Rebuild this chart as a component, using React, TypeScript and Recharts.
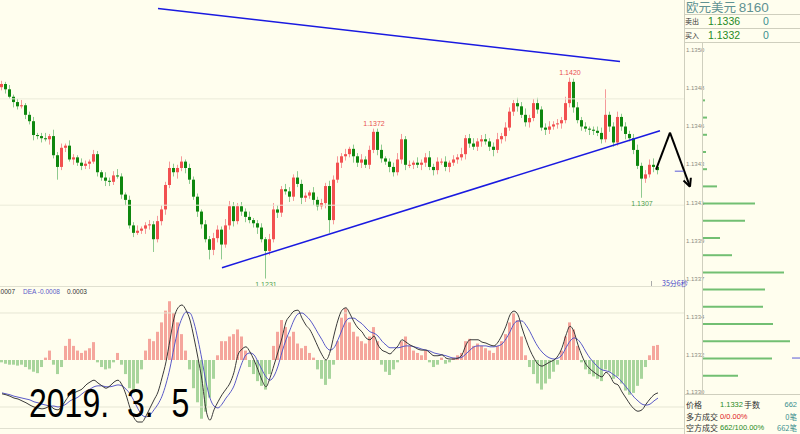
import React from 'react';
import { ComposedChart, BarChart, Bar, Line, XAxis, YAxis, ReferenceLine, ReferenceDot, Cell } from 'recharts';

// ---- price data (pips above 1.1200) ----
const closes = [
  214,209,202,197,193,194,185,179,166,165,
  163,162,165,147,136,154,156,143,145,140,
  137,139,141,148,131,126,123,122,128,127,
  110,105,81,74,76,78,81,82,68,85,
  96,119,135,131,135,141,135,124,108,94,
  82,68,58,69,77,63,81,99,85,99,
  94,89,86,83,79,68,57,68,96,93,
  115,113,108,126,120,107,109,112,105,99,
  102,118,86,124,140,146,148,153,146,140,
  143,138,152,169,152,144,141,136,131,143,
  162,138,138,140,138,140,145,136,133,141,
  141,136,140,143,145,148,163,158,155,160,
  162,160,155,152,162,165,173,188,196,193,
  185,178,182,196,190,173,171,174,176,177,
  180,196,216,192,180,174,172,171,170,168,
  162,185,174,159,183,174,167,163,152,137,
  125,129,138,136,133,
];
const firstOpen = 211;
const wickUp = [
  3,2,4,2,3,5,2,3,4,2,
  3,5,2,6,3,4,2,5,3,2,
  4,3,2,4,3,2,5,3,4,6,
  3,2,4,3,5,2,3,4,3,5,
  4,3,6,4,3,5,2,4,3,3,
  2,4,3,5,4,3,6,5,4,3,
  4,3,5,2,3,4,2,5,6,4,
  3,5,4,3,6,4,3,2,5,3,
  4,3,5,4,6,3,5,2,4,3,
  5,3,4,3,3,5,2,3,4,6,
  5,3,4,2,5,3,4,6,3,4,
  3,5,2,4,3,6,3,4,5,3,
  4,5,3,4,6,3,5,4,3,5,
  4,6,3,4,5,3,4,5,3,4,
  3,6,4,3,5,3,4,2,3,4,
  5,24,3,4,5,3,4,3,4,5,
  3,4,5,6,3,
];
const wickDown = [
  3,4,2,5,3,2,4,3,5,3,
  4,2,5,3,12,3,4,2,5,3,
  4,3,5,2,4,3,5,4,3,2,
  4,5,3,4,2,3,5,4,12,3,
  4,5,3,4,6,3,5,4,3,5,
  4,3,9,5,4,14,3,4,5,3,
  4,5,3,4,6,3,26,4,3,5,
  4,3,5,4,3,6,4,3,5,4,
  3,5,12,4,3,5,4,3,6,4,
  5,3,4,3,5,4,3,5,4,3,
  4,5,3,4,3,5,4,3,5,4,
  3,4,5,3,4,3,5,4,3,4,
  5,3,4,6,3,4,5,3,4,5,
  3,4,5,3,4,3,5,4,3,4,
  5,3,4,5,3,4,3,5,4,3,
  4,3,5,4,3,4,5,3,4,3,
  18,4,3,5,4,
];

// ---- MACD data (units of 0.0001) ----
const macdHist = [
  -0.5,-0.8,-1,-1,-1.2,-1,-1.5,-2,-2.5,-2.8,
  -1.5,0.5,2,-1,-3,-1.5,3,4.5,3,2,
  1.5,2,2.5,3.8,-0.5,-1.5,-2,-1.8,-0.5,1.5,
  -1,-3,-6,-7,-5,-2,2,4.5,4,6,
  8,10.5,12.5,10,8,5.5,2,-2,-6,-9,
  -12.5,-11,-8,-4,1,4,4,5,5.5,6.5,
  5,2,-1.5,-3,-4.5,-5.5,-6.3,-3,3,6,
  8.5,7,5,6,3.5,2.5,3,1.5,0.5,-2,
  -4,-5.3,-4,-1,4,9,11,8,6,5,
  4,3.5,5,7,4,-1,-2.5,-3.2,-2,-0.5,
  4,5,3,2,1.5,1,2,-0.5,-1.5,-1,
  0.5,-0.8,-0.5,0.5,1,1.5,4,4.5,3,3.5,
  3,2.5,2,1.5,3,4,5.5,8,10,8.5,
  5,1,-1.5,-3,-5,-6.3,-5,-4,-2.5,-1,
  2,5,8,6.5,3,-0.5,-2,-3,-3.5,-4,
  -4.5,-2,-2.5,-4,-3.5,-5,-6.5,-7.4,-7,-5.5,
  -4,-1.5,1,3,3.2,
];
const difValues = [
  -7.2,-7.4,-7.7,-8.1,-8.3,-8.7,-9.1,-9.6,-10,-10.2,
  -10.4,-10.2,-9.8,-10.4,-10.6,-9.8,-8.5,-7.4,-7,-6.6,
  -6.2,-5.3,-4.7,-4.3,-4.9,-5.5,-6,-5.5,-4.7,-4.3,
  -5.3,-7.4,-10.2,-12.3,-13.2,-13.2,-11.9,-10.2,-8.5,-6.8,
  -3.8,-0.4,4.3,8.9,11.1,11.7,10.6,8.5,4.7,0.4,
  -4.3,-10.6,-12.8,-10.6,-8.9,-7.4,-6.2,-4.9,-2.6,1.1,
  2.3,2.8,1.7,0,-2.1,-4.3,-5.7,-3.8,-1.1,1.7,
  4.7,8.1,9.4,10.4,10.6,8.9,7.4,6.4,4.7,2.8,
  1.1,0,1.7,5.3,8.5,10.6,11.1,9.8,8.1,6.8,
  6,4.7,4.3,5.1,3.2,2.1,1.7,1.3,2.1,3,
  4.3,3.8,3.2,2.8,2.3,2.1,2.1,1.5,0.9,0.9,
  1.1,0.4,0.2,0.2,0.4,1.1,3.2,4.3,4.3,4.3,
  3.8,3.6,3.2,3,3.8,5.3,7.2,9.6,10.4,9.6,
  6.8,4.3,2.1,0.4,-0.9,-1.3,-0.9,-0.4,0,0.9,
  2.6,5.3,7.2,6,3.2,0.9,-0.9,-1.9,-2.6,-3.2,
  -3.6,-2.6,-3.4,-4.9,-5.3,-6.8,-8.1,-9.4,-10.4,-10.9,
  -10.6,-9.4,-8.3,-7.4,-7,
];
const deaValues = [
  -7,-7.2,-7.4,-7.7,-7.9,-8.1,-8.3,-8.5,-8.9,-9.1,
  -9.4,-9.6,-9.8,-9.8,-10,-9.8,-9.4,-8.7,-8.3,-7.9,
  -7.2,-6.6,-6.2,-5.7,-5.5,-5.5,-5.7,-5.7,-5.5,-5.3,
  -5.5,-6.2,-7.2,-8.7,-10.4,-11.7,-12.1,-11.7,-10.6,-9.4,
  -7.7,-5.1,-1.7,2.6,6.4,8.9,10.2,10,7.9,4.3,
  0,-4.7,-8.1,-9.8,-10.2,-9.4,-8.1,-7,-5.5,-3,
  -0.6,1.1,1.5,1.1,-0.4,-2.1,-3.6,-4.3,-3.4,-1.3,
  1.7,4.3,6.4,8.5,9.8,10,9.4,8.5,7.2,5.7,
  4.3,2.8,2.1,2.6,4.3,6.4,8.3,8.9,8.9,8.3,
  7.7,6.8,6,5.7,5.1,4,3.2,2.6,2.6,2.6,
  2.8,3,3,2.8,2.6,2.3,2.1,1.9,1.5,1.3,
  1.1,0.9,0.6,0.4,0.4,0.6,1.3,2.1,2.8,3,
  3,3,2.8,2.8,3,3.4,4.5,6,7.7,8.3,
  8.3,7.4,6,4.3,2.8,1.7,0.9,0.4,0.2,0.4,
  1.1,2.6,4,4.7,4.3,3.2,1.7,0.4,-0.6,-1.5,
  -2.1,-2.3,-2.6,-3.2,-3.8,-4.7,-5.7,-6.8,-7.9,-8.7,
  -9.4,-9.6,-9.4,-8.7,-8.1,
];

// ---- depth ladder (pips above 1.1300 : volume) ----
const ladderLevels = [47,46,45,44,43,42,41,40,39,38,37,36,35,34,33,32,31];
const ladderVolumes = [3,5,5,4,5,15,53,43,18,30,82,63,61,71,88,70,36];
const ladderTicks = [49.9,47.7,45.5,43.3,41.0,38.8,36.6,34.4,32.2,30.0];
const ladderTickLabels = ['1.1350','1.1348','1.1346','1.1343','1.1341','1.1339','1.1337','1.1334','1.1332','1.1330'];

// ---- annotations ----
const extremeIdx = [142, 93, 66, 160];
const extremeKind = ['high', 'high', 'low', 'low'];
const downTrend = [{ x: 39, y: 284.9 }, { x: 154.5, y: 235.1 }];
const upTrend = [{ x: 55, y: 41.2 }, { x: 164.5, y: 170.1 }];
const arrowPts = [{ x: 163.5, y: 133.4 }, { x: 167, y: 168.2 }, { x: 172, y: 117.4 }];
const lastPricePips = 132;

const opens = [firstOpen, ...closes.slice(0, -1)];
const priceData = closes.map((c, i) => {
  const o = opens[i];
  const high = Math.max(o, c) + wickUp[i];
  const low = Math.min(o, c) - wickDown[i];
  return { i, open: o, close: c, high, low, range: [low, high] };
});
const macdData = macdHist.map((h, i) => ({ i, hist: h, dif: difValues[i], dea: deaValues[i] }));
const ladderData = ladderLevels.map((v, k) => ({ v, vol: ladderVolumes[k] }));

const fmt = (pips: number) => ((11200 + pips) / 10000).toFixed(4);

const Candle = (props: any) => {
  const { x, y, width, height, payload } = props;
  if (x == null || y == null) return null;
  const top = Math.min(y, y + height);
  const h = Math.abs(height);
  const { open, close, high, low } = payload;
  const span = high - low || 1;
  const py = (v: number) => top + ((high - v) / span) * h;
  const bull = close >= open;
  const cx = x + width / 2;
  const bTop = py(Math.max(open, close));
  const bBot = py(Math.min(open, close));
  return (
    <g>
      <line x1={cx} x2={cx} y1={top} y2={top + h} stroke={bull ? '#f59a9a' : '#8fca8f'} strokeWidth={1} />
      <rect x={x} y={bTop} width={width} height={Math.max(1, bBot - bTop)} fill={bull ? '#f25050' : '#0e870e'} />
    </g>
  );
};

const ArrowShape = (props: any) => {
  const { x1, y1, x2, y2 } = props;
  if ([x1, y1, x2, y2].some((v) => v == null || isNaN(v))) return null;
  const ang = Math.atan2(y2 - y1, x2 - x1);
  const L = 9;
  const a1 = ang + Math.PI - 0.45;
  const a2 = ang + Math.PI + 0.45;
  return (
    <g>
      <line x1={x1} y1={y1} x2={x2} y2={y2} stroke="#000" strokeWidth={2} />
      <line x1={x2} y1={y2} x2={x2 + L * Math.cos(a1)} y2={y2 + L * Math.sin(a1)} stroke="#000" strokeWidth={2} />
      <line x1={x2} y1={y2} x2={x2 + L * Math.cos(a2)} y2={y2 + L * Math.sin(a2)} stroke="#000" strokeWidth={2} />
    </g>
  );
};

const LadderTick = (p: any) => (
  <text x={2} y={p.y} dy={2} fontSize={6} fill="#8c8c84" fontFamily="Arial, 'Liberation Sans', sans-serif">
    {ladderTickLabels[p.index]}
  </text>
);

const BG = '#fffeee';
const FRAME = '#cfcfbe';
const sans = "Arial, 'Liberation Sans', sans-serif";
const cjk = "'Noto Sans CJK SC', 'Noto Sans', sans-serif";

const abs = (l: number, t: number, extra: any = {}) => ({ position: 'absolute' as const, left: l, top: t, whiteSpace: 'pre' as const, ...extra });

export default function App() {
  return (
    <div style={{ position: 'fixed', left: 0, top: 0, width: 800, height: 434, background: BG, overflow: 'hidden', fontFamily: sans }}>
      {/* ladder panel */}
      <div style={abs(684, 42)}>
        <BarChart layout="vertical" width={116} height={352} data={ladderData} margin={{ top: 0, right: 0, bottom: 0, left: 0 }}>
          <XAxis type="number" domain={[0, 98]} hide allowDataOverflow />
          <YAxis type="number" dataKey="v" reversed domain={[29.91, 50.37]} ticks={ladderTicks} interval={0} width={18} axisLine={false} tickLine={false} tick={<LadderTick />} allowDataOverflow />
          <Bar dataKey="vol" fill="#72bf72" barSize={2} isAnimationActive={false} />
          <ReferenceLine segment={[{ x: 90, y: lastPricePips - 100 }, { x: 98, y: lastPricePips - 100 }]} stroke="#5a5ad8" strokeWidth={1} ifOverflow="visible" />
        </BarChart>
      </div>
      {/* frames */}
      <div style={abs(684, 0, { width: 1, height: 434, background: FRAME })} />
      <div style={abs(702, 42, { width: 1, height: 352, background: FRAME })} />
      <div style={abs(684, 14, { width: 116, height: 1, background: FRAME })} />
      <div style={abs(684, 28, { width: 116, height: 1, background: FRAME })} />
      <div style={abs(684, 42, { width: 116, height: 1, background: FRAME })} />
      <div style={abs(684, 394, { width: 116, height: 1, background: FRAME })} />
      <div style={abs(0, 286, { width: 684, height: 1, background: '#e0e0d0' })} />
      <div style={abs(0, 428, { width: 684, height: 1, background: '#e0e0d0' })} />

      {/* header */}
      <div style={abs(686, 0, { fontFamily: cjk, fontSize: 12.5, lineHeight: '13px', color: '#5f9292' })}>
        欧元美元 <span style={{ fontFamily: sans, fontSize: 13.5 }}>8160</span>
      </div>
      <div style={abs(685, 16, { fontFamily: cjk, fontSize: 7, lineHeight: '10px', color: '#333' })}>卖出</div>
      <div style={abs(708, 15, { fontSize: 10.5, lineHeight: '12px', color: '#1f8a1f' })}>1.1336</div>
      <div style={abs(763, 15, { fontSize: 10.5, lineHeight: '12px', color: '#3c8f8f' })}>0</div>
      <div style={abs(685, 30, { fontFamily: cjk, fontSize: 7, lineHeight: '10px', color: '#333' })}>买入</div>
      <div style={abs(708, 29, { fontSize: 10.5, lineHeight: '12px', color: '#1f8a1f' })}>1.1332</div>
      <div style={abs(763, 29, { fontSize: 10.5, lineHeight: '12px', color: '#3c8f8f' })}>0</div>

      {/* bottom info */}
      <div style={abs(686, 400, { fontFamily: cjk, fontSize: 8, lineHeight: '10px', color: '#333' })}>价格</div>
      <div style={abs(720, 400, { fontSize: 7.5, lineHeight: '10px', color: '#1f8a1f' })}>1.1332</div>
      <div style={abs(744, 400, { fontFamily: cjk, fontSize: 8, lineHeight: '10px', color: '#333' })}>手数</div>
      <div style={abs(740, 400, { width: 57, textAlign: 'right', fontSize: 7.5, lineHeight: '10px', color: '#3c8f8f' })}>662</div>
      <div style={abs(686, 412, { fontFamily: cjk, fontSize: 8, lineHeight: '10px', color: '#333' })}>多方成交</div>
      <div style={abs(720, 412, { fontSize: 7.5, lineHeight: '10px', color: '#e02020' })}>0/0.00%</div>
      <div style={abs(740, 412, { width: 57, textAlign: 'right', fontFamily: cjk, fontSize: 7.5, lineHeight: '10px', color: '#3c8f8f' })}>0笔</div>
      <div style={abs(686, 423, { fontFamily: cjk, fontSize: 8, lineHeight: '10px', color: '#333' })}>空方成交</div>
      <div style={abs(720, 423, { fontSize: 7.5, lineHeight: '10px', color: '#1f8a1f' })}>662/100.00%</div>
      <div style={abs(740, 423, { width: 57, textAlign: 'right', fontFamily: cjk, fontSize: 7.5, lineHeight: '10px', color: '#3c8f8f' })}>662笔</div>

      {/* MACD panel */}
      <div style={abs(0, 286)}>
        <ComposedChart width={700} height={142} data={macdData} margin={{ top: 11, right: 16, bottom: 0, left: 0 }}>
          <XAxis type="number" dataKey="i" domain={[-0.5, 170.5]} hide allowDataOverflow />
          <YAxis type="number" domain={[-14.47, 13.4]} hide allowDataOverflow />
          <ReferenceLine y={10} stroke="#e6e6d4" />
          <ReferenceLine y={-10} stroke="#e6e6d4" />
          <Line type="monotone" dataKey="dea" stroke="#5a5ac8" strokeWidth={1} dot={false} isAnimationActive={false} />
          <Line type="monotone" dataKey="dif" stroke="#3a3a3a" strokeWidth={1} dot={false} isAnimationActive={false} />
          <Bar dataKey="hist" barSize={3} isAnimationActive={false}>
            {macdData.map((d) => (
              <Cell key={d.i} fill={d.hist >= 0 ? '#f5a69c' : '#a8d59c'} />
            ))}
          </Bar>
        </ComposedChart>
      </div>
      <div style={abs(-60, 287, { width: 75, textAlign: 'right', fontSize: 6.5, lineHeight: '9px', color: '#333' })}>DIF -0.0007</div>
      <div style={abs(23, 287, { fontSize: 6.5, lineHeight: '9px', color: '#5a5ac8' })}>DEA -0.0008</div>
      <div style={abs(67, 287, { fontSize: 6.5, lineHeight: '9px', color: '#333' })}>0.0003</div>

      {/* price panel */}
      <div style={abs(0, 0)}>
        <ComposedChart width={700} height={286} data={priceData} margin={{ top: 0, right: 16, bottom: 0, left: 0 }}>
          <XAxis type="number" dataKey="i" domain={[-0.5, 170.5]} hide allowDataOverflow />
          <YAxis type="number" domain={[24, 293]} hide allowDataOverflow />
          <ReferenceLine y={200} stroke="#ebebd9" />
          <ReferenceLine y={100} stroke="#ebebd9" />
          <Bar dataKey="range" barSize={3} shape={<Candle />} isAnimationActive={false} />
          <ReferenceLine segment={downTrend} stroke="#1a1ae0" strokeWidth={1.5} ifOverflow="visible" />
          <ReferenceLine segment={upTrend} stroke="#1a1ae0" strokeWidth={1.5} ifOverflow="visible" />
          <ReferenceLine segment={[arrowPts[0], arrowPts[1]]} stroke="#000" strokeWidth={2} ifOverflow="visible" />
          <ReferenceLine segment={[arrowPts[1], arrowPts[2]]} ifOverflow="visible" shape={<ArrowShape />} />
          <ReferenceLine segment={[{ x: 168.2, y: lastPricePips }, { x: 170.4, y: lastPricePips }]} stroke="#5a5ad8" ifOverflow="visible" />
          {extremeIdx.map((idx, k) => {
            const d = priceData[idx];
            const isHigh = extremeKind[k] === 'high';
            const v = isHigh ? d.high : d.low;
            return (
              <ReferenceDot
                key={idx}
                x={idx}
                y={v}
                r={0}
                ifOverflow="visible"
                shape={() => <g />}
                label={{ value: fmt(v), position: isHigh ? 'top' : 'bottom', offset: 3, fill: isHigh ? '#e85050' : '#4fa04f', fontSize: 7, fontFamily: sans }}
              />
            );
          })}
        </ComposedChart>
      </div>
      <div style={abs(662, 279, { fontFamily: cjk, fontSize: 7, lineHeight: '9px', color: '#4848c8' })}>35分6秒</div>
      <div style={abs(651, 281, { width: 1, height: 5, background: '#aaa' })} />

      {/* date overlay */}
      <div style={abs(29, 383, { fontSize: 32, lineHeight: '32px', color: '#000', fontFamily: sans, transform: 'scaleY(1.27)', transformOrigin: '0 0', wordSpacing: 9 })}>
        2019. 3. 5
      </div>
    </div>
  );
}
